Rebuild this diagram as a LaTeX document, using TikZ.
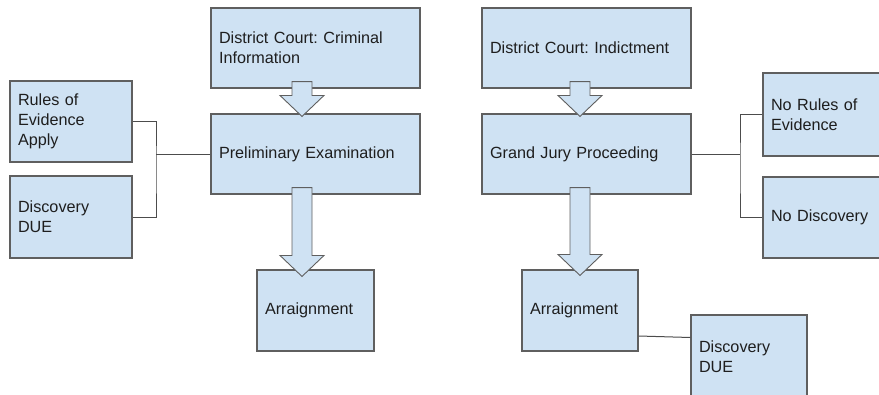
\documentclass[tikz,border=0pt]{standalone}
\usepackage{fontspec}
\setmainfont{Liberation Sans}
\usetikzlibrary{calc,positioning}
\definecolor{boxblue}{HTML}{CFE2F3}
\definecolor{boxline}{HTML}{5F5F5F}
\definecolor{boxtext}{HTML}{1E1E1E}
\newcommand{\bigw}{209pt}
\frenchspacing
\tikzset{
    boxsty/.style={draw=boxline,fill=boxblue,line width=1.1pt,rectangle,align=left,
      inner xsep=8pt,inner ysep=0pt,text=boxtext,anchor=center,
      font=\fontsize{16.2}{20}\selectfont},
    bigsty/.style={boxsty,text width=\bigw-16pt,minimum height=80pt},
    smallsty/.style={boxsty,text width=#1-16pt,minimum height=81pt},
    fatsty/.style={draw=boxline,fill=boxblue,line width=0.9pt,line join=miter},
    linksty/.style={draw=boxline!80!black,line width=1pt},
}
% block arrow: #1 shaft top, #2 tip
\newcommand{\fatarrow}[2]{%
  \draw[fatsty] let \p1=#1, \p2=#2 in
    (\x1-10pt,\y1) -- (\x1+10pt,\y1) -- (\x1+10pt,\y2+21pt) -- (\x1+22pt,\y2+21pt)
    -- (\x1,\y2) -- (\x1-22pt,\y2+21pt) -- (\x1-10pt,\y2+21pt) -- cycle;}

\begin{document}
\begin{tikzpicture}[x=1pt,y=-1pt]
\useasboundingbox (0,0) rectangle (879,394);

% information side
\node[bigsty] (crim) at (315.5,48) {District Court: Criminal\\Information};
\node[bigsty] (prelim) at (315.5,154) {Preliminary Examination};
\node[smallsty=122pt] (rules) at (71,121.5) {Rules of\\Evidence\\Apply};
\node[smallsty=122pt,minimum height=82pt] (disc) at (71,217) {Discovery\\DUE};
\node[smallsty=117pt] (arrL) at (315.5,310.5) {Arraignment};

% indictment side
\node[bigsty] (ind) at (586.5,48) {District Court: Indictment};
\node[bigsty] (gj) at (586.5,154) {Grand Jury Proceeding};
\node[smallsty=122pt,minimum height=83pt] (norules) at (824,114.5) {No Rules of\\Evidence};
\node[smallsty=122pt] (nodisc) at (824,217.5) {No Discovery};
\node[smallsty=116pt] (arrR) at (580,310.5) {Arraignment};
\node[smallsty=116pt,minimum height=84pt] (discR) at (749,357) {Discovery\\DUE};

% brackets
\coordinate (jl) at (156,170);
\draw[linksty] (rules.east) -| (jl) |- (disc.east);
\draw[linksty] (prelim.west) -- (prelim.west -| jl);
\coordinate (jr) at (740,170);
\draw[linksty] (norules.west) -| (jr) |- (nodisc.west);
\draw[linksty] (gj.east) -- (gj.east -| jr);
\draw[linksty] ([yshift=-25.5pt]arrR.east) -- ([yshift=19.5pt]discR.west);

% block arrows
\fatarrow{([xshift=-13.5pt,yshift=7pt]crim.south)}{([xshift=-13.5pt,yshift=-3pt]prelim.north)}
\fatarrow{([xshift=-13.5pt,yshift=7pt]prelim.south)}{([xshift=-13.5pt,yshift=-7pt]arrL.north)}
\fatarrow{([xshift=-6.5pt,yshift=7pt]ind.south)}{([xshift=-6.5pt,yshift=-3pt]gj.north)}
\fatarrow{([xshift=-6.5pt,yshift=7pt]gj.south)}{([xshift=-6.5pt,yshift=-6pt]arrR.north)}

\end{tikzpicture}
\end{document}
